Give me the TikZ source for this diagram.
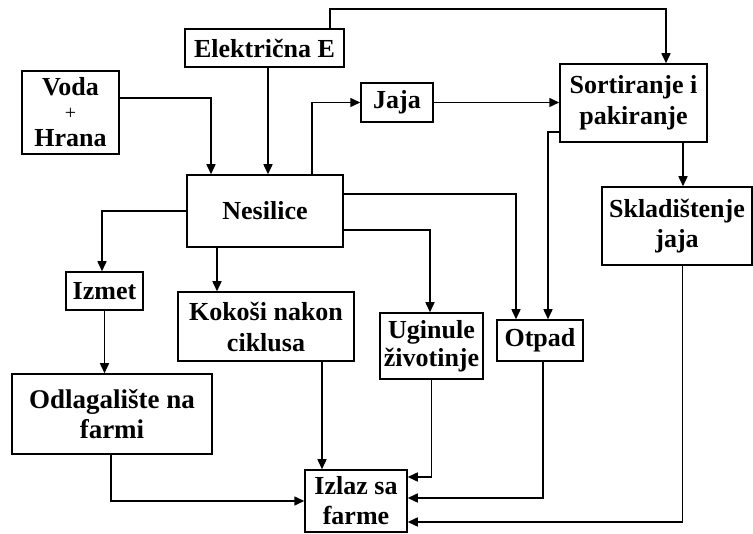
\documentclass[tikz,border=0pt]{standalone}
\usepackage{fontspec}
\setmainfont{Liberation Serif}
\usetikzlibrary{arrows.meta}
\begin{document}
\begin{tikzpicture}[x=1pt,y=-1pt,
  box/.style={draw, line width=1.5pt, inner sep=0pt, align=center,
    font=\fontsize{26}{31}\selectfont\bfseries},
  arr/.style={line width=1.5pt, -{Triangle[length=10pt,width=9pt]}}]
\useasboundingbox[fill=white] (0,0) rectangle (753,534);
% nodes
\node[box, minimum width=159pt, minimum height=38pt] (elek) at (264.5,48) {Električna E};
\node[box, minimum width=97pt, minimum height=83pt] (voda) at (70.5,112.5)
  {Voda\\[-7.5pt]{\mdseries\fontsize{20}{20}\selectfont +}\\[-3.5pt]Hrana};
\node[box, minimum width=72pt, minimum height=39pt] (jaja) at (397,102.5) {Jaja};
\node[box, minimum width=147pt, minimum height=78pt] (sort) at (633.5,103) {Sortiranje i\\pakiranje};
\node[box, minimum width=156pt, minimum height=72pt] (nes) at (265,211) {Nesilice};
\node[box, minimum width=77pt, minimum height=38pt] (izmet) at (104.5,291) {Izmet};
\node[box, minimum width=176pt, minimum height=69pt] (kok) at (266,326.5) {Kokoši nakon\\ciklusa};
\node[box, minimum width=103pt, minimum height=66pt, font=\fontsize{26}{28}\selectfont\bfseries] (ugin) at (431.5,346) {Uginule\\životinje};
\node[box, minimum width=86pt, minimum height=41pt] (otpad) at (540,340.5) {Otpad};
\node[box, minimum width=150pt, minimum height=78pt, font=\fontsize{26}{30}\selectfont\bfseries] (sklad) at (677,226) {Skladištenje\\jaja};
\node[box, minimum width=200pt, minimum height=80pt, font=\fontsize{27}{30}\selectfont\bfseries] (odlag) at (112,414) {Odlagalište na\\farmi};
\node[box, minimum width=102pt, minimum height=62pt, font=\fontsize{26}{30}\selectfont\bfseries] (izlaz) at (356,501) {Izlaz sa\\farme};
% helper coordinates
\coordinate (top) at (0,9);
\coordinate (sortin) at ([xshift=32.5pt]sort.north);
% connectors
\draw[arr] ([yshift=14.5pt]voda.east) -| ([xshift=-54pt]nes.north);
\draw[arr] ([xshift=3.5pt]elek.south) -- ([xshift=3.5pt]elek.south |- nes.north);
\draw[arr] ([xshift=47pt]nes.north) |- (jaja.west);
\draw[arr] ([xshift=65.5pt]elek.north) |- (top -| sortin) -- (sortin);
\draw[arr] (jaja.east) -- (jaja.east -| sort.west);
\draw[arr] ([yshift=-29pt]sort.west) -| ([xshift=8pt]otpad.north);
\draw[arr] ([xshift=49.5pt]sort.south) -- ([xshift=49.5pt]sort.south |- sklad.north);
\draw[arr] (nes.west) -| ([xshift=-2.5pt]izmet.north);
\draw[arr] (izmet.south) -- (izmet.south |- odlag.north);
\draw[arr] ([xshift=-48pt]nes.south) -- ([xshift=-48pt]nes.south |- kok.north);
\draw[arr] ([yshift=-19pt]nes.east) -| ([xshift=-1.5pt]ugin.north);
\draw[arr] ([yshift=17pt]nes.east) -| ([xshift=-24pt]otpad.north);
\draw[arr] ([xshift=56pt]kok.south) -- ([xshift=56pt]kok.south |- izlaz.north);
\draw[arr] ([xshift=-1pt]odlag.south) |- (izlaz.west);
\draw[arr] (ugin.south) |- ([yshift=24pt]izlaz.east);
\draw[arr] ([xshift=3pt]otpad.south) |- ([yshift=3pt]izlaz.east);
\draw[arr] ([xshift=5.5pt]sklad.south) |- ([yshift=-21pt]izlaz.east);
\end{tikzpicture}
\end{document}
